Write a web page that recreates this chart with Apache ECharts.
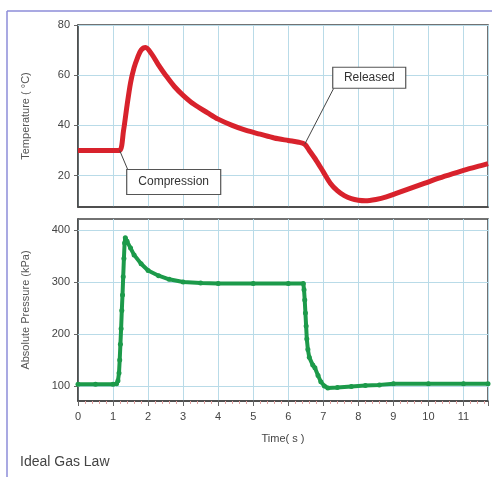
<!DOCTYPE html>
<html><head><meta charset="utf-8">
<script src="https://cdn.jsdelivr.net/npm/echarts@6/dist/echarts.min.js"></script>
<style>html,body{margin:0;padding:0;background:#fff}#c{width:492px;height:477px}</style>
</head><body><div id="c"></div>
<script>
// Temperature (time s, °C)
const tempTime = [0,0.5,1.0,1.19,1.3,1.4,1.5,1.6,1.7,1.8,1.93,2.1,2.3,2.5,2.75,3.0,3.3,3.7,4.0,4.4,4.8,5.2,5.6,6.0,6.3,6.47,6.6,6.8,7.0,7.2,7.4,7.6,7.8,8.0,8.2,8.5,8.8,9.1,9.5,9.9,10.3,10.7,11.1,11.5,11.7];
const tempValues = [30,30,30,30,38,48,57,63,67,70,71,68.5,64,60,55.5,52,48.5,45,42.5,40,38,36.5,35,34,33.3,32.5,30,26,21.5,17,14,12,10.8,10.2,10,10.5,11.5,13,15,17,19,20.8,22.5,24,24.8];
// Pressure (time s, kPa)
const presTime = [0,0.5,1.0,1.1,1.14,1.17,1.19,1.21,1.23,1.25,1.27,1.29,1.31,1.33,1.35,1.4,1.5,1.6,1.8,2.0,2.3,2.6,3.0,3.5,4.0,5.0,6.0,6.43,6.45,6.47,6.49,6.51,6.53,6.56,6.6,6.7,6.76,6.85,6.93,7.03,7.13,7.4,7.8,8.2,8.6,9.0,10.0,11.0,11.7];
const presValues = [103,103,103,104,110,125,150,180,210,245,275,310,345,375,385,378,365,352,335,322,312,305,300,298,297,297,297,297,285,265,240,215,190,170,155,140,135,120,108,100,96,97,99,101,102,104,104,104,104];
const timeTicks = [0,1,2,3,4,5,6,7,8,9,10,11];
const tempTicks = [20,40,60,80];
const presTicks = [100,200,300,400];
const annotations = [
  {text:'Compression', t:1.19, v:30, dx:7, dy:19, w:94, h:25, anchorCorner:'tl'},
  {text:'Released', t:6.47, v:32.5, dx:28, dy:-77, w:73, h:21, anchorCorner:'bl'}
];

const tempData = tempTime.map((t,i)=>[t,tempValues[i]]);
const presData = presTime.map((t,i)=>[t,presValues[i]]);

const gridColor = '#b9dbe8';
const font = 'Arial, "Liberation Sans", sans-serif';
function xAxis(idx, showLabels){
  return {
    type:'value', gridIndex:idx, min:0, max:11.7, interval:1,
    axisLine:{show:true, lineStyle:{color:'#444', width:1.5}},
    axisTick:{show:showLabels, length:5, lineStyle:{color:'#666'}},
    minorTick:{show:showLabels, splitNumber:5, length:3, lineStyle:{color:'#e0a0a0'}},
    axisLabel:{show:showLabels, color:'#444', fontSize:11, fontFamily:font, margin:10, showMaxLabel:false},
    splitLine:{show:true, lineStyle:{color:gridColor, width:1}},
    name: showLabels ? 'Time( s )' : '', nameLocation:'middle', nameGap:32,
    nameTextStyle:{color:'#444', fontSize:11, fontFamily:font}
  };
}
function yAxis(idx, min, max, ticks, name){
  return {
    type:'value', gridIndex:idx, min:min, max:max,
    axisLine:{show:true, lineStyle:{color:'#444', width:1.5}},
    axisTick:{show:true, length:4, customValues:ticks, lineStyle:{color:'#666'}},
    axisLabel:{color:'#444', fontSize:11, fontFamily:font, margin:8, customValues:ticks},
    splitLine:{show:false},
    name:name, nameLocation:'middle', nameGap:47,
    nameTextStyle:{color:'#555', fontSize:11, fontFamily:font}
  };
}
function hLines(ticks){
  return {silent:true, symbol:'none', label:{show:false}, z:1,
    lineStyle:{color:gridColor, width:1, type:'solid'},
    data: ticks.map(v=>({yAxis:v}))};
}
const chart = echarts.init(document.getElementById('c'), null, {renderer:'canvas'});
chart.setOption({
  animation:false,
  backgroundColor:'#fff',
  grid:[
    {left:78, top:25, width:410, height:182, show:true, borderColor:'#444', borderWidth:1.5, backgroundColor:'#fff'},
    {left:78, top:219, width:410, height:182, show:true, borderColor:'#444', borderWidth:1.5, backgroundColor:'#fff'}
  ],
  xAxis:[xAxis(0,false), xAxis(1,true)],
  yAxis:[yAxis(0,7.5,80,tempTicks,'Temperature ( °C)'), yAxis(1,71,421,presTicks,'Absolute Pressure (kPa)')],
  series:[
    {type:'line', xAxisIndex:0, yAxisIndex:0, data:tempData, smooth:0.3, showSymbol:false,
     lineStyle:{color:'#d8222c', width:5}, markLine:hLines(tempTicks), z:3},
    {type:'line', xAxisIndex:1, yAxisIndex:1, data:presData, showSymbol:true, symbol:'circle', symbolSize:5,
     itemStyle:{color:'#1c9a4a'}, lineStyle:{color:'#1c9a4a', width:4}, markLine:hLines(presTicks), z:3}
  ],
  graphic:[
    {type:'line', shape:{x1:7, y1:11, x2:492, y2:11}, style:{stroke:'#8c8cd8', lineWidth:1.5}},
    {type:'line', shape:{x1:7, y1:11, x2:7, y2:477}, style:{stroke:'#8c8cd8', lineWidth:1.5}},
    {type:'text', left:20, top:455, style:{text:'Ideal Gas Law', fill:'#444', font:'14px '+font}}
  ]
});
const extra = [];
annotations.forEach(a=>{
  const p = chart.convertToPixel({gridIndex:0}, [a.t, a.v]);
  const bx = p[0]+a.dx, by = p[1]+a.dy;
  const cx = bx, cy = a.anchorCorner==='tl' ? by : by + a.h;
  extra.push({type:'line', z:100, shape:{x1:p[0], y1:p[1], x2:cx+1, y2:cy}, style:{stroke:'#444', lineWidth:1}});
  extra.push({type:'rect', z:100, shape:{x:bx, y:by, width:a.w, height:a.h}, style:{fill:'#fff', stroke:'#555', lineWidth:1.2}});
  extra.push({type:'text', z:101, x:bx+a.w/2, y:by+a.h/2, style:{text:a.text, fill:'#333', font:'12px '+font, align:'center', verticalAlign:'middle'}});
});
chart.setOption({graphic: chart.getOption().graphic[0].elements.concat(extra)});
</script></body></html>
